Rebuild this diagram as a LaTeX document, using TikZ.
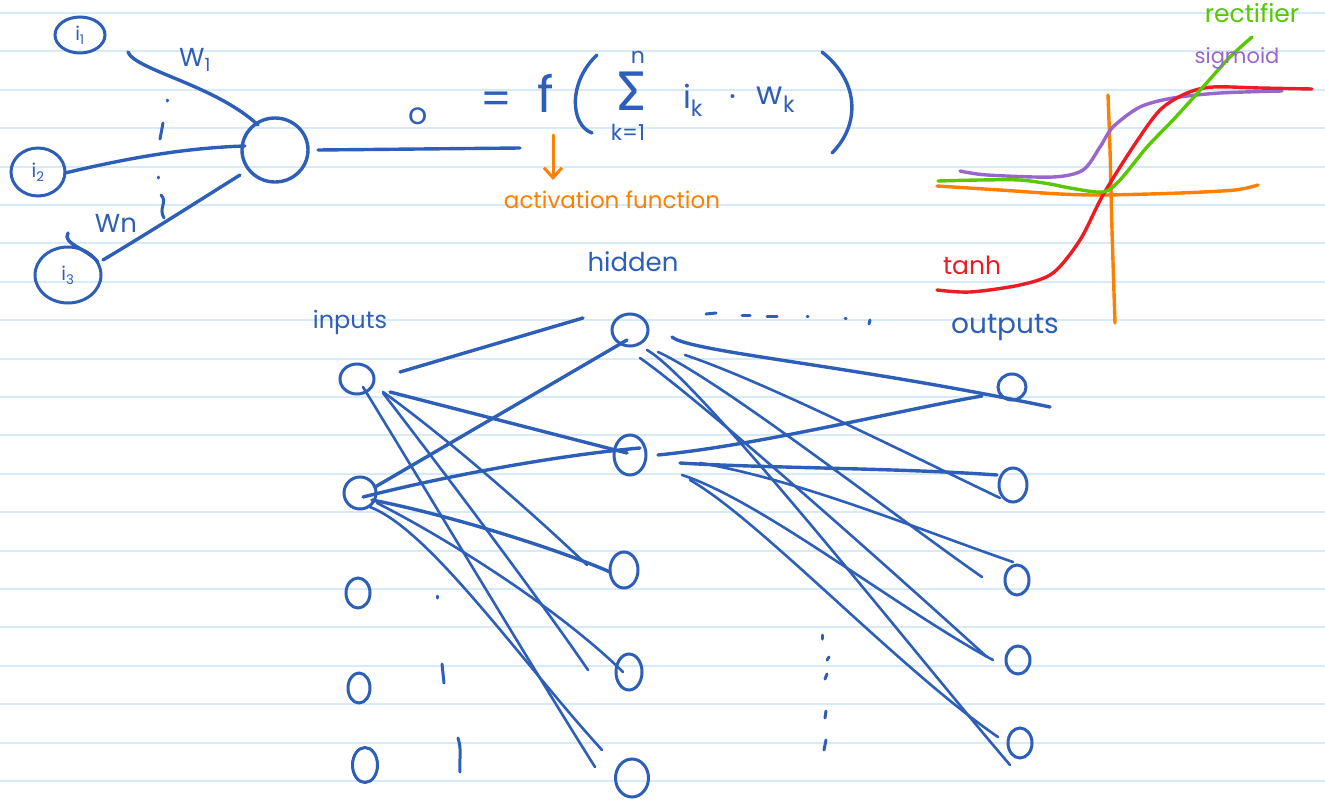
\documentclass[tikz,border=0pt]{standalone}
\usepackage{fontspec}
\setmainfont{Poppins}
\newfontfamily\sigfont{Fira Sans}
\usetikzlibrary{shapes.geometric,arrows.meta,calc}
\definecolor{nblue}{RGB}{46,95,184}
\definecolor{norange}{RGB}{255,128,0}
\definecolor{nred}{RGB}{237,28,36}
\definecolor{ngreen}{RGB}{88,200,0}
\definecolor{npurple}{RGB}{153,102,204}
\definecolor{paperline}{RGB}{214,234,248}
\tikzset{
  nrn/.style 2 args={draw=nblue, line width=3pt, ellipse, inner sep=0pt, minimum width=#1pt, minimum height=#2pt, text=nblue, font=\fontsize{19}{19}\selectfont},
  con/.style={draw=nblue, line width=2.6pt, line cap=round},
  thick con/.style={draw=nblue, line width=3.4pt, line cap=round},
  lab/.style={text=nblue, inner sep=0pt, font=\fontsize{24}{26}\selectfont},
  curve/.style={line width=3.4pt, line cap=round, line join=round},
  paper/.style={draw=paperline, line width=2pt},
  dotmark/.style={draw=nblue, line width=3pt, line cap=round}
}
\begin{document}
\begin{tikzpicture}[x=1pt,y=-1pt]
\useasboundingbox (0,0) rectangle (1325,800);
\fill[white] (0,0) rectangle (1325,800);
\foreach \k in {0,...,20} \draw[paper] (0,{13+38.4*\k}) -- (1325,{13+38.4*\k});

% ---------- single neuron ----------
\node[nrn={50}{36}] (in1) at (80,35) {i\textsubscript{1}};
\node[nrn={54}{48}] (in2) at (38,172) {i\textsubscript{2}};
\node[nrn={66}{56}] (in3) at (68,275) {i\textsubscript{3}};
\node[nrn={66}{64}, line width=3.4pt] (neu) at (275,150) {};
\coordinate (oend) at (520,148);

\draw[thick con] ([shift={(48,17)}]in1.center) .. controls (135,70) and (215,85) .. ([shift={(-17,-25)}]neu.center);
\draw[thick con] ([shift={(27,1)}]in2.center) .. controls (120,160) and (180,148) .. ([shift={(-30,-4)}]neu.center);
\draw[thick con] ([shift={(35,-15)}]in3.center) .. controls (150,232) and (200,200) .. ([shift={(-35,25)}]neu.center);
\draw[thick con] ([shift={(43,0)}]neu.center) -- (oend);
\draw[thick con] (68,233) .. controls (62,244) and (86,248) .. ([shift={(30,-13)}]in3.center);

\node[lab, font=\fontsize{26}{26}\selectfont] (w1) at (195,60) {W\textsubscript{1}};
\node[lab, font=\fontsize{26}{26}\selectfont] (wn) at (116,223) {Wn};
\draw[dotmark] (167,100) -- (167,101);
\draw[dotmark] (163,123) -- (160,139);
\draw[dotmark] (158,177) -- (158,178);
\draw[dotmark] (161,195) .. controls (168,202) and (158,208) .. (164,218);

% ---------- formula ----------
\node[lab, font=\fontsize{30}{30}\selectfont] (o) at (418,116) {o};
\node[lab, font=\fontsize{44}{44}\selectfont] (eq) at (496,103) {=};
\node[lab, font=\fontsize{50}{50}\selectfont] (f) at (546,93) {f};
\draw[thick con] (597,55) .. controls (568,82) and (570,125) .. (592,133);
\node[lab, font=\fontsize{56}{56}\sigfont] (sig) at (632,91) {Σ};
\node[lab, font=\fontsize{22}{22}\selectfont] (n) at (638,57) {n};
\node[lab, font=\fontsize{22}{22}\selectfont] (k1) at (628,132) {k=1};
\node[lab, font=\fontsize{32}{32}\selectfont] (ik) at (693,100) {i\textsubscript{k}};
\node[lab, font=\fontsize{32}{32}\selectfont] (cd) at (733,101) {·};
\node[lab, font=\fontsize{32}{32}\selectfont] (wk) at (776,100) {w\textsubscript{k}};
\draw[thick con] (822,52) .. controls (860,82) and (860,125) .. (832,153);

\coordinate (arrs) at (553,135);
\coordinate (arre) at (553,180);
\draw[draw=norange, line width=3pt, line cap=round, -{Straight Barb[length=10pt,width=18pt,line width=3pt]}] (arrs) -- (arre);
\node[text=norange, inner sep=0pt, font=\fontsize{23}{24}\selectfont] (act) at (612,200) {activation function};

% ---------- activation functions ----------
\draw[draw=norange, curve] plot[smooth] coordinates {(937,186) (1000,190) (1060,194) (1105,195) (1180,193) (1235,190) (1258,185)};
\draw[draw=norange, curve] plot[smooth] coordinates {(1108,95) (1110,150) (1112,230) (1115,323)};
\draw[draw=npurple, curve] plot[smooth] coordinates {(960,171) (987,175) (1053,177) (1083,170) (1100,147) (1113,127) (1140,107) (1173,98) (1220,93) (1282,91)};
\draw[draw=nred, curve] plot[smooth] coordinates {(937,290) (970,292) (1020,285) (1053,273) (1080,240) (1103,195) (1133,147) (1160,110) (1187,93) (1213,87) (1260,88) (1312,89)};
\draw[draw=ngreen, curve] plot[smooth] coordinates {(938,181) (980,180) (1020,180) (1050,184) (1070,188) (1103,192) (1120,180) (1147,147) (1173,120) (1203,87) (1230,57) (1252,37)};
\node[text=ngreen, inner sep=0pt, font=\fontsize{25}{25}\selectfont] (rect) at (1252,13) {rectifier};
\node[text=npurple, inner sep=0pt, font=\fontsize{21}{21}\selectfont] (sigm) at (1237,58) {sigmoid};
\node[text=nred, inner sep=0pt, font=\fontsize{25}{25}\selectfont] (tanh) at (972,265) {tanh};

% ---------- network ----------
\node[lab, font=\fontsize{26}{26}\selectfont] (hid) at (633,262) {hidden};
\node[lab] (inp) at (350,322) {inputs};
\node[lab, font=\fontsize{28}{28}\selectfont] (outp) at (1005,328) {outputs};

\node[nrn={34}{30}] (I1) at (357,379) {};
\node[nrn={32}{32}] (I2) at (360,493) {};
\node[nrn={24}{30}] (I3) at (358,593) {};
\node[nrn={22}{30}] (I4) at (359,688) {};
\node[nrn={25}{35}] (I5) at (365,765) {};
\node[nrn={36}{32}] (H1) at (630,330) {};
\node[nrn={32}{40}] (H2) at (630,455) {};
\node[nrn={28}{36}] (H3) at (624,570) {};
\node[nrn={26}{36}] (H4) at (629,672) {};
\node[nrn={33}{38}] (H5) at (632,778) {};
\node[nrn={28}{26}] (O1) at (1012,387) {};
\node[nrn={28}{34}] (O2) at (1013,485) {};
\node[nrn={24}{30}] (O3) at (1017,580) {};
\node[nrn={24}{28}] (O4) at (1018,660) {};
\node[nrn={24}{30}] (O5) at (1020,743) {};

% input -> hidden
\draw[thick con] ([shift={(43,-7)}]I1.center) -- ([shift={(-47,-12)}]H1.center);
\draw[thick con] ([shift={(33,13)}]I1.center) -- ([shift={(-3,-2)}]H2.center);
\draw[con] ([shift={(26,13)}]I1.center) .. controls (450,440) and (540,520) .. ([shift={(-37,-5)}]H3.center);
\draw[con] ([shift={(26,14)}]I1.center) .. controls (450,480) and (540,600) .. ([shift={(-41,-2)}]H4.center);
\draw[con] ([shift={(6,8)}]I1.center) .. controls (420,480) and (540,680) .. ([shift={(-37,-11)}]H5.center);
\draw[thick con] ([shift={(15,-6)}]I2.center) -- ([shift={(-3,10)}]H1.center);
\draw[thick con] ([shift={(3,4)}]I2.center) .. controls (450,475) and (560,455) .. ([shift={(10,-7)}]H2.center);
\draw[thick con] ([shift={(12,7)}]I2.center) .. controls (450,515) and (560,550) .. ([shift={(-14,2)}]H3.center);
\draw[con] ([shift={(17,10)}]I2.center) .. controls (450,540) and (560,610) .. ([shift={(-6,0)}]H4.center);
\draw[con] ([shift={(10,14)}]I2.center) .. controls (430,530) and (520,660) .. ([shift={(-30,-28)}]H5.center);

% hidden -> output
\draw[thick con] ([shift={(42,7)}]H1.center) .. controls (690,352) and (850,365) .. ([shift={(38,20)}]O1.center);
\draw[con] ([shift={(55,25)}]H1.center) .. controls (760,380) and (900,450) .. ([shift={(-13,13)}]O2.center);
\draw[con] ([shift={(28,22)}]H1.center) .. controls (720,380) and (900,520) .. ([shift={(-35,-3)}]O3.center);
\draw[con] ([shift={(10,28)}]H1.center) .. controls (700,400) and (880,560) .. ([shift={(-31,-3)}]O4.center);
\draw[con] ([shift={(17,20)}]H1.center) .. controls (700,380) and (920,660) .. ([shift={(-10,22)}]O5.center);
\draw[thick con] ([shift={(28,0)}]H2.center) .. controls (760,445) and (900,410) .. ([shift={(-30,9)}]O1.center);
\draw[thick con] ([shift={(50,8)}]H2.center) .. controls (760,468) and (900,468) .. ([shift={(-16,-10)}]O2.center);
\draw[con] ([shift={(70,8)}]H2.center) .. controls (800,480) and (920,530) .. ([shift={(-4,-18)}]O3.center);
\draw[con] ([shift={(52,20)}]H2.center) .. controls (760,500) and (900,610) .. ([shift={(-25,0)}]O4.center);
\draw[con] ([shift={(60,25)}]H2.center) .. controls (760,520) and (900,670) .. ([shift={(-22,-6)}]O5.center);

% ellipsis marks
\draw[dotmark] (437,596) -- (437,598);
\draw[dotmark] (442,664) -- (444,683);
\draw[dotmark] (458,738) .. controls (462,750) and (459,760) .. (460,772);
\draw[dotmark] (822,635) -- (822,639);
\draw[dotmark] (829,657) -- (827,660);
\draw[dotmark] (827,674) -- (825,679);
\draw[dotmark] (826,711) -- (825,718);
\draw[dotmark] (826,740) -- (824,750);
\draw[dotmark] (706,314) -- (716,313);
\draw[dotmark] (742,315) -- (750,315);
\draw[dotmark] (767,316) -- (777,316);
\draw[dotmark] (807,316) -- (808,316);
\draw[dotmark] (845,318) -- (846,318);
\draw[dotmark] (870,320) -- (869,324);
\end{tikzpicture}
\end{document}
